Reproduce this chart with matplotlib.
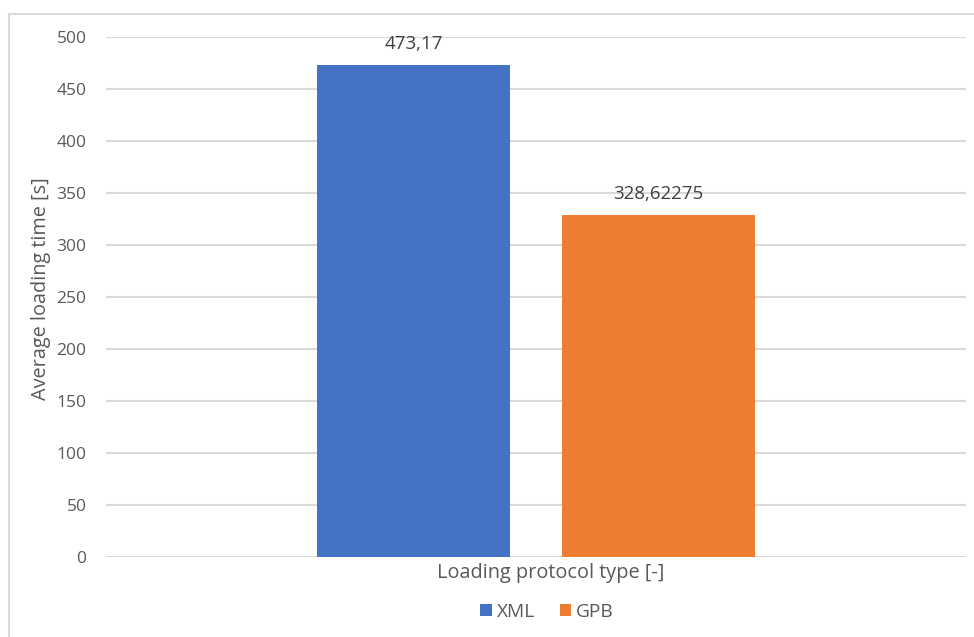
import matplotlib
matplotlib.use("Agg")
import matplotlib.pyplot as plt
from matplotlib.patches import Rectangle

series = ["XML", "GPB"]
values = [473.17, 328.62275]
value_labels = ["473,17", "328,62275"]
colors = ["#4472C4", "#ED7D31"]
yticks = list(range(0, 501, 50))

plt.rcParams["font.family"] = ["Open Sans", "DejaVu Sans"]
text_color = "#595959"
grid_color = "#D9D9D9"

W, H = 974, 637
fig = plt.figure(figsize=(W / 100, H / 100), dpi=100)

# chart frame, running off the right and bottom edges
fig.patches.append(Rectangle((8.5 / W, -0.1), 1.2, (H - 13.5) / H + 0.1,
                             transform=fig.transFigure, fill=False,
                             edgecolor=grid_color, linewidth=1.5))

ax = fig.add_axes([106 / W, (H - 557) / H, 860 / W, 520 / H])
ax.set_xlim(0, 1)
ax.set_ylim(0, 500)

centers = [0.3576, 0.6424]
width = 0.2244
bars = ax.bar(centers, values, width=width, color=colors, label=series, zorder=3)

for c, v, lab in zip(centers, values, value_labels):
    ax.annotate(lab, (c, v), xytext=(0, 15), textcoords="offset points",
                ha="center", va="center", fontsize=13.5, color="#404040")

ax.set_yticks(yticks)
ax.set_xticks([])
ax.tick_params(axis="y", length=0, pad=14, labelsize=12.5, labelcolor=text_color)
ax.grid(axis="y", color=grid_color, linewidth=1.5, zorder=0)
for s in ax.spines.values():
    s.set_visible(False)

ax.set_ylabel("Average loading time [s]", fontsize=14.3, color=text_color)
ax.yaxis.set_label_coords(-0.064, 0.517)
ax.set_xlabel("Loading protocol type [-]", fontsize=14.3, color=text_color, labelpad=7)
ax.xaxis.set_label_coords(0.517, -0.012)
ax.xaxis.label.set_va("top")

ax.legend(handles=bars, labels=series, loc="center", bbox_to_anchor=(547 / W, (H - 612) / H),
          bbox_transform=fig.transFigure, ncol=2, frameon=False, fontsize=13.8,
          labelcolor=text_color, handlelength=0.6, handleheight=0.6,
          handletextpad=0.25, columnspacing=1.3)

fig.savefig("out.png", dpi=100, facecolor="white")
